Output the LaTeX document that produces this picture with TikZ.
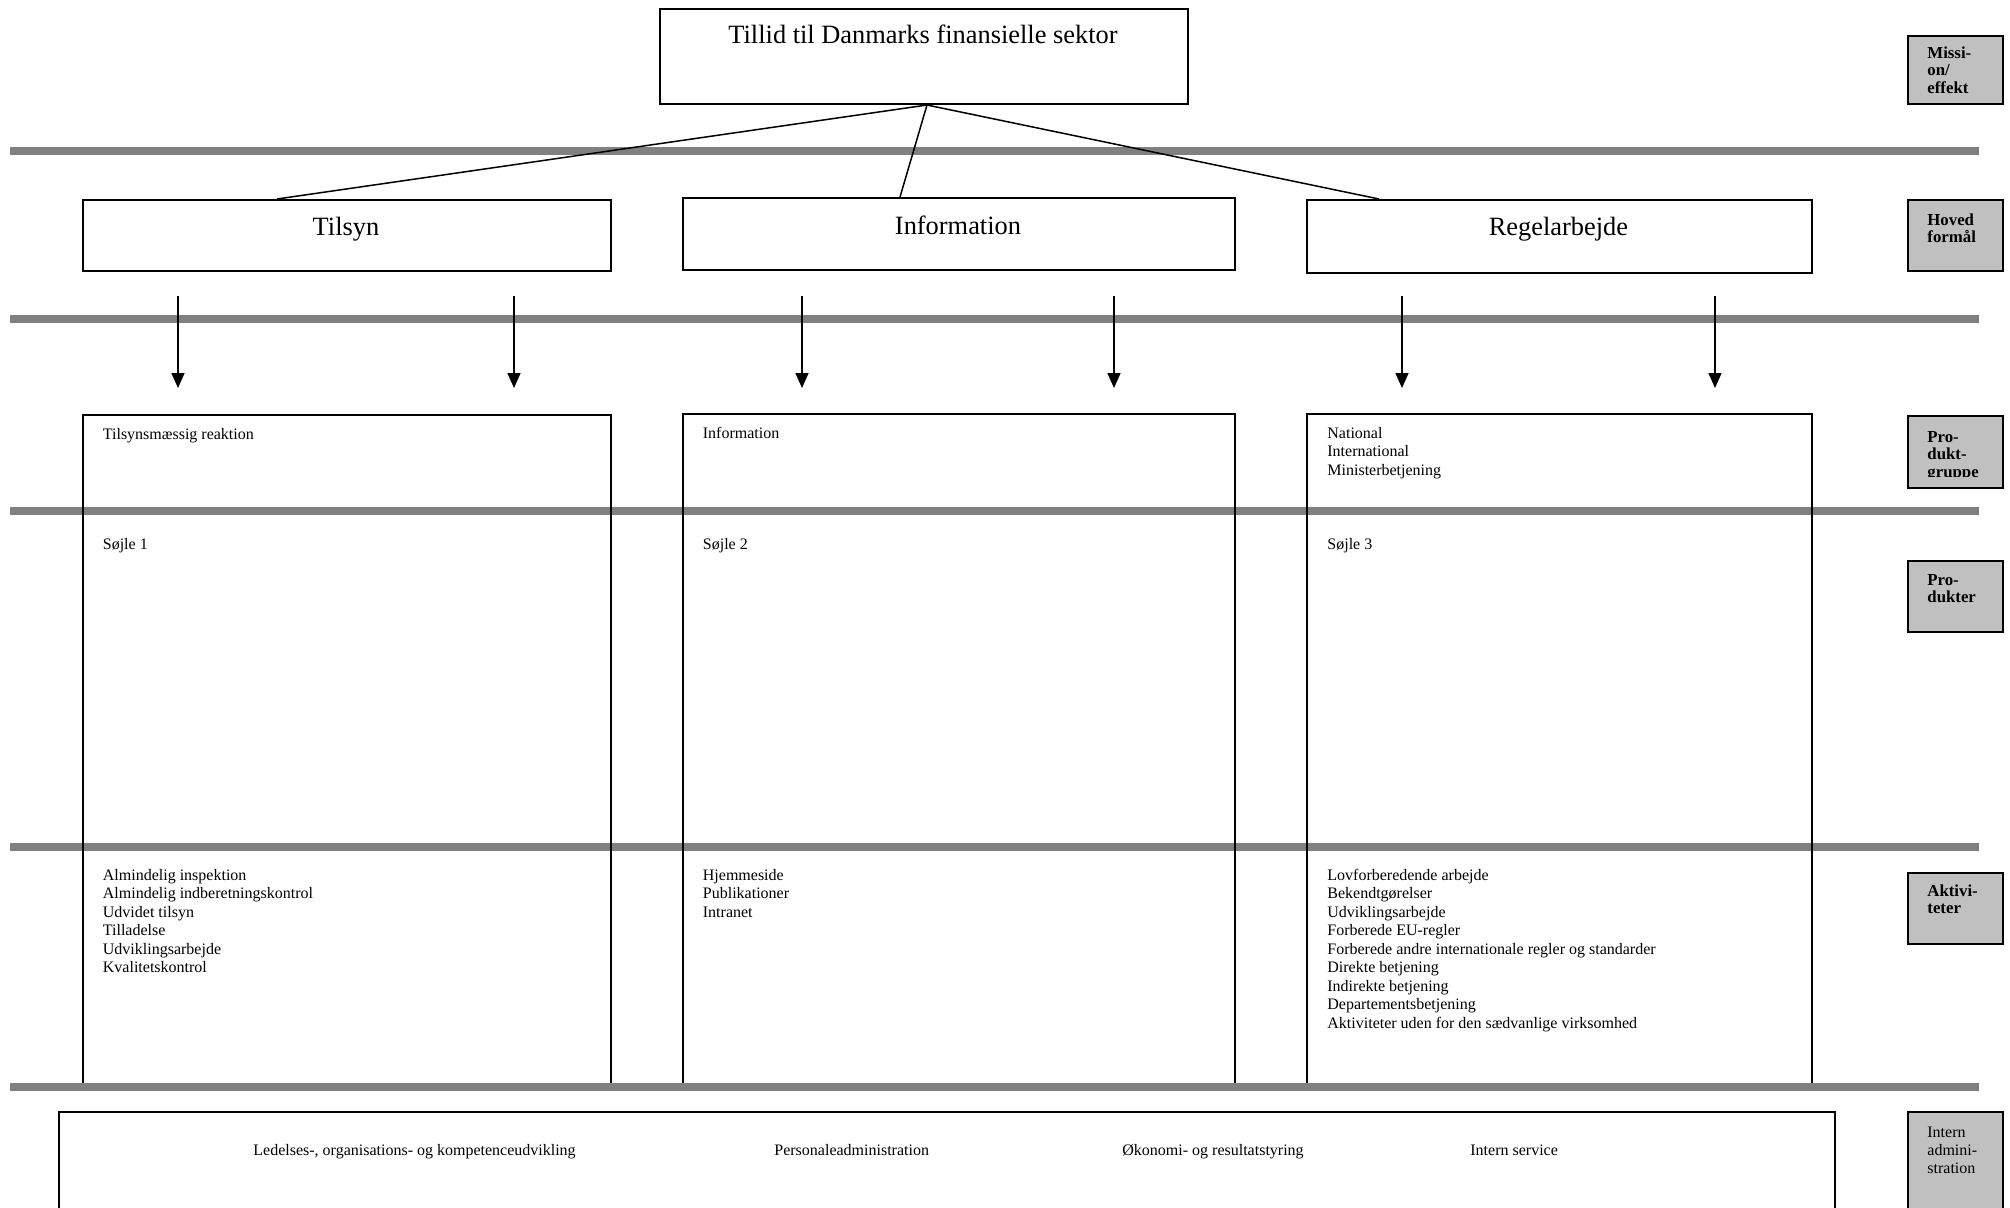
\documentclass[tikz,border=0pt]{standalone}
\usepackage{fontspec}
\setmainfont{Liberation Serif}
\usetikzlibrary{arrows.meta}
\definecolor{barcol}{HTML}{808080}
\definecolor{lblfill}{HTML}{C0C0C0}
\begin{document}
\begin{tikzpicture}[x=0.5pt,y=-0.5pt,
  box/.style={draw=black,line width=1pt,inner sep=0pt,anchor=north west},
  bar/.style={draw=barcol,line width=4pt},
  lblbox/.style={draw=black,line width=1pt,fill=lblfill,inner sep=0pt,anchor=north west,minimum width=47.5pt},
  small/.style={font=\fontsize{8}{9.25}\selectfont,inner sep=0pt,align=left,anchor=base west},
  lbltext/.style={font=\fontsize{8.4}{8.75}\selectfont\bfseries,inner sep=0pt,align=left,anchor=base west},
  lbltextr/.style={font=\fontsize{8}{9}\selectfont,inner sep=0pt,align=left,anchor=base west},
  big/.style={font=\fontsize{13.2}{15}\selectfont,inner sep=0pt,anchor=base},
  conn/.style={draw=black,line width=0.75pt},
  arr/.style={draw=black,line width=0.75pt,-{Triangle[length=7.5pt,width=6.5pt]}}
]
\clip (0,0) rectangle (2010,1207);

% horizontal grey bars
\foreach \yy in {151,319,511,847} \draw[bar] (10,\yy) -- (1979,\yy);

% mission
\node[box,minimum width=264pt,minimum height=47.5pt] (mission) at (659,8) {};
\node[big] (missiontxt) at (923,43) {Tillid til Danmarks finansielle sektor};

% main purposes
\node[box,minimum width=264pt,minimum height=35.5pt] (tilsyn) at (82,199) {};
\node[big] (tilsyntxt) at (346,235) {Tilsyn};
\node[box,minimum width=276pt,minimum height=36pt] (info) at (682,197) {};
\node[big] (infotxt) at (958,234) {Information};
\node[box,minimum width=252.5pt,minimum height=36.5pt] (regel) at (1306,199) {};
\node[big] (regeltxt) at (1558.5,235) {Regelarbejde};

\draw[conn] ([xshift=1.5pt]mission.south) -- ([xshift=97.5pt]tilsyn.north west);
\draw[conn] ([xshift=1.5pt]mission.south) -- ([xshift=109pt]info.north west);
\draw[conn] ([xshift=1.5pt]mission.south) -- ([xshift=36.5pt]regel.north west);

% columns
\node[box,minimum width=264pt,minimum height=336.5pt] (col1) at (82,414) {};
\node[box,minimum width=276pt,minimum height=337pt] (col2) at (682,413) {};
\node[box,minimum width=252.5pt,minimum height=337pt] (col3) at (1306,413) {};

% arrows
\draw[arr] ([xshift=48pt,yshift=-12pt]tilsyn.south west) -- ([xshift=48pt,yshift=13pt]col1.north west);
\draw[arr] ([xshift=216pt,yshift=-12pt]tilsyn.south west) -- ([xshift=216pt,yshift=13pt]col1.north west);
\draw[arr] ([xshift=60pt,yshift=-12.5pt]info.south west) -- ([xshift=60pt,yshift=12.5pt]col2.north west);
\draw[arr] ([xshift=216pt,yshift=-12.5pt]info.south west) -- ([xshift=216pt,yshift=12.5pt]col2.north west);
\draw[arr] ([xshift=48pt,yshift=-11pt]regel.south west) -- ([xshift=48pt,yshift=12.5pt]col3.north west);
\draw[arr] ([xshift=204.5pt,yshift=-11pt]regel.south west) -- ([xshift=204.5pt,yshift=12.5pt]col3.north west);

% column texts (multi-line nodes: base = last line)
\node[small] (pg1) at (102.5,439) {Tilsynsmæssig reaktion};
\node[small] (pr1) at (102.5,549) {Søjle 1};
\node[small] (ak1) at (102.5,972.5) {Almindelig inspektion\\Almindelig indberetningskontrol\\Udvidet tilsyn\\Tilladelse\\Udviklingsarbejde\\Kvalitetskontrol};

\node[small] (pg2) at (702.5,438) {Information};
\node[small] (pr2) at (702.5,549) {Søjle 2};
\node[small] (ak2) at (702.5,917) {Hjemmeside\\Publikationer\\Intranet};

\node[small] (pg3) at (1327,475) {National\\International\\Ministerbetjening};
\node[small] (pr3) at (1327,549) {Søjle 3};
\node[small] (ak3) at (1327,1028) {Lovforberedende arbejde\\Bekendtgørelser\\Udviklingsarbejde\\Forberede EU-regler\\Forberede andre internationale regler og standarder\\Direkte betjening\\Indirekte betjening\\Departementsbetjening\\Aktiviteter uden for den sædvanlige virksomhed};

\draw[bar] (10,1087) -- (1979,1087);

% internal administration
\node[box,minimum width=888pt,minimum height=52pt] (intadm) at (58,1111) {};
\node[small] (ia1) at (253,1155) {Ledelses-, organisations- og kompetenceudvikling};
\node[small] (ia2) at (774,1155) {Personaleadministration};
\node[small] (ia3) at (1122,1155) {Økonomi- og resultatstyring};
\node[small] (ia4) at (1470,1155) {Intern service};

% level labels
\node[lblbox,minimum height=34pt] (l1) at (1907,35) {};
\node[lbltext] (l1t) at (1927,93) {Missi-\\on/\\effekt};
\node[lblbox,minimum height=35.5pt] (l2) at (1907,199) {};
\node[lbltext] (l2t) at (1927,242.5) {Hoved\\formål};
\node[lblbox,minimum height=36pt] (l3) at (1907,415) {};
\begin{scope}
  \clip (1907,415) rectangle (2002,476);
  \node[lbltext] (l3t) at (1927,477) {Pro-\\dukt-\\gruppe};
\end{scope}
\node[lblbox,minimum height=35.5pt] (l4) at (1907,560) {};
\node[lbltext] (l4t) at (1927,602.5) {Pro-\\dukter};
\node[lblbox,minimum height=35.5pt] (l5) at (1907,872) {};
\node[lbltext] (l5t) at (1927,913.5) {Aktivi-\\teter};
\node[lblbox,minimum height=52pt] (l6) at (1907,1111) {};
\node[lbltextr] (l6t) at (1927,1173) {Intern\\admini-\\stration};
\end{tikzpicture}
\end{document}
